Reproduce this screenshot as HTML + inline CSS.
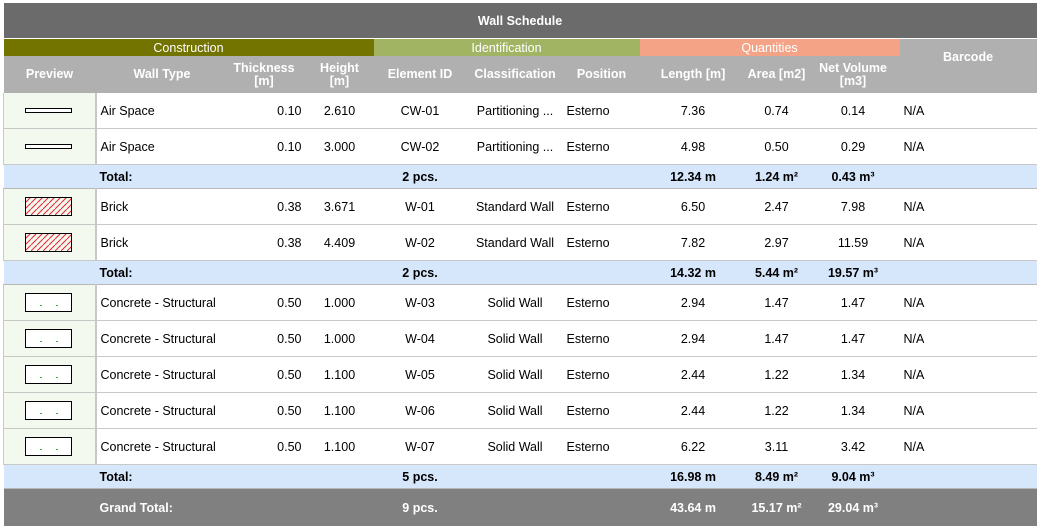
<!DOCTYPE html>
<html><head><meta charset="utf-8"><style>
body{margin:0;background:#fff;font-family:"Liberation Sans",Arial,sans-serif;font-size:12.5px;color:#000}
table{position:absolute;left:3px;top:3px;border-collapse:collapse;table-layout:fixed;width:1033px}
td{padding:0;white-space:nowrap;overflow:hidden}
.title td{background:#6b6b6b;color:#fff;font-weight:bold;text-align:center;height:35px;border-bottom:1px solid #fff}
.grp td{height:17px;color:#fff;text-align:center;font-weight:normal}
.hdr td{background:#b0b0b0;color:#fff;font-weight:bold;text-align:center;height:37px;line-height:13px}
.d td{height:35px;border-bottom:1px solid #c8c8c8}
.d td.pv{background:#f3f9ef;border-right:2px solid #c8c8c8;border-left:1px solid #c8c8c8;text-align:center}
.t td{height:23px;background:#d7e7fb;border-bottom:1px solid #b8b8b8;font-weight:bold}
.g td{height:37px;background:#808080;color:#fff;font-weight:bold}
.r{text-align:right}.c{text-align:center}
.ic{display:inline-block;vertical-align:middle}
</style></head><body>
<table>
<colgroup><col style="width:92px"><col style="width:133px"><col style="width:77px"><col style="width:68px"><col style="width:93px"><col style="width:97px"><col style="width:76px"><col style="width:107px"><col style="width:60px"><col style="width:93px"><col style="width:137px"></colgroup>
<tr class="title"><td colspan="11">Wall Schedule</td></tr>
<tr class="grp"><td colspan="4" style="background:#737300">Construction</td><td colspan="3" style="background:#a1b463">Identification</td><td colspan="3" style="background:#f5a386">Quantities</td><td rowspan="2" style="background:#b0b0b0;font-weight:bold;vertical-align:middle;padding-bottom:18px">Barcode</td></tr>
<tr class="hdr"><td>Preview</td><td>Wall Type</td><td class="r" style="padding-right:6px">Thickness<br>[m]</td><td>Height<br>[m]</td><td>Element ID</td><td>Classification</td><td>Position</td><td>Length [m]</td><td>Area [m2]</td><td>Net Volume<br>[m3]</td></tr>

<tr class="d"><td class="pv"><svg class="ic" width="48" height="6"><rect x="0.5" y="0.5" width="46" height="4" fill="#fff" stroke="#000"/></svg></td><td style="padding-left:4px">Air Space</td><td class="r" style="padding-right:4px">0.10</td><td class="c">2.610</td><td class="c">CW-01</td><td class="c">Partitioning ...</td><td style="padding-left:3px">Esterno</td><td class="c">7.36</td><td class="c">0.74</td><td class="c">0.14</td><td style="padding-left:4px">N/A</td></tr>
<tr class="d"><td class="pv"><svg class="ic" width="48" height="6"><rect x="0.5" y="0.5" width="46" height="4" fill="#fff" stroke="#000"/></svg></td><td style="padding-left:4px">Air Space</td><td class="r" style="padding-right:4px">0.10</td><td class="c">3.000</td><td class="c">CW-02</td><td class="c">Partitioning ...</td><td style="padding-left:3px">Esterno</td><td class="c">4.98</td><td class="c">0.50</td><td class="c">0.29</td><td style="padding-left:4px">N/A</td></tr>
<tr class="t"><td></td><td style="padding-left:4px">Total:</td><td></td><td></td><td class="c">2 pcs.</td><td></td><td></td><td class="c">12.34 m</td><td class="c">1.24 m²</td><td class="c">0.43 m³</td><td></td></tr>

<tr class="d"><td class="pv"><svg class="ic" width="48" height="20"><defs><pattern id="h" width="6" height="6" patternUnits="userSpaceOnUse"><path d="M0,6L6,0" stroke="#e23" stroke-width="1"/></pattern></defs><rect x="0.5" y="0.5" width="46" height="18" fill="url(#h)" stroke="#000"/></svg></td><td style="padding-left:4px">Brick</td><td class="r" style="padding-right:4px">0.38</td><td class="c">3.671</td><td class="c">W-01</td><td class="c">Standard Wall</td><td style="padding-left:3px">Esterno</td><td class="c">6.50</td><td class="c">2.47</td><td class="c">7.98</td><td style="padding-left:4px">N/A</td></tr>
<tr class="d"><td class="pv"><svg class="ic" width="48" height="20"><rect x="0.5" y="0.5" width="46" height="18" fill="url(#h)" stroke="#000"/></svg></td><td style="padding-left:4px">Brick</td><td class="r" style="padding-right:4px">0.38</td><td class="c">4.409</td><td class="c">W-02</td><td class="c">Standard Wall</td><td style="padding-left:3px">Esterno</td><td class="c">7.82</td><td class="c">2.97</td><td class="c">11.59</td><td style="padding-left:4px">N/A</td></tr>
<tr class="t"><td></td><td style="padding-left:4px">Total:</td><td></td><td></td><td class="c">2 pcs.</td><td></td><td></td><td class="c">14.32 m</td><td class="c">5.44 m²</td><td class="c">19.57 m³</td><td></td></tr>

<tr class="d"><td class="pv"><svg class="ic" width="48" height="20"><rect x="0.5" y="0.5" width="46" height="18" fill="#fff" stroke="#000"/><rect x="15" y="12" width="2" height="1" fill="#4a4"/><rect x="31" y="12" width="2" height="1" fill="#4a4"/></svg></td><td style="padding-left:4px">Concrete - Structural</td><td class="r" style="padding-right:4px">0.50</td><td class="c">1.000</td><td class="c">W-03</td><td class="c">Solid Wall</td><td style="padding-left:3px">Esterno</td><td class="c">2.94</td><td class="c">1.47</td><td class="c">1.47</td><td style="padding-left:4px">N/A</td></tr>
<tr class="d"><td class="pv"><svg class="ic" width="48" height="20"><rect x="0.5" y="0.5" width="46" height="18" fill="#fff" stroke="#000"/><rect x="15" y="12" width="2" height="1" fill="#4a4"/><rect x="31" y="12" width="2" height="1" fill="#4a4"/></svg></td><td style="padding-left:4px">Concrete - Structural</td><td class="r" style="padding-right:4px">0.50</td><td class="c">1.000</td><td class="c">W-04</td><td class="c">Solid Wall</td><td style="padding-left:3px">Esterno</td><td class="c">2.94</td><td class="c">1.47</td><td class="c">1.47</td><td style="padding-left:4px">N/A</td></tr>
<tr class="d"><td class="pv"><svg class="ic" width="48" height="20"><rect x="0.5" y="0.5" width="46" height="18" fill="#fff" stroke="#000"/><rect x="15" y="12" width="2" height="1" fill="#4a4"/><rect x="31" y="12" width="2" height="1" fill="#4a4"/></svg></td><td style="padding-left:4px">Concrete - Structural</td><td class="r" style="padding-right:4px">0.50</td><td class="c">1.100</td><td class="c">W-05</td><td class="c">Solid Wall</td><td style="padding-left:3px">Esterno</td><td class="c">2.44</td><td class="c">1.22</td><td class="c">1.34</td><td style="padding-left:4px">N/A</td></tr>
<tr class="d"><td class="pv"><svg class="ic" width="48" height="20"><rect x="0.5" y="0.5" width="46" height="18" fill="#fff" stroke="#000"/><rect x="15" y="12" width="2" height="1" fill="#4a4"/><rect x="31" y="12" width="2" height="1" fill="#4a4"/></svg></td><td style="padding-left:4px">Concrete - Structural</td><td class="r" style="padding-right:4px">0.50</td><td class="c">1.100</td><td class="c">W-06</td><td class="c">Solid Wall</td><td style="padding-left:3px">Esterno</td><td class="c">2.44</td><td class="c">1.22</td><td class="c">1.34</td><td style="padding-left:4px">N/A</td></tr>
<tr class="d"><td class="pv"><svg class="ic" width="48" height="20"><rect x="0.5" y="0.5" width="46" height="18" fill="#fff" stroke="#000"/><rect x="15" y="12" width="2" height="1" fill="#4a4"/><rect x="31" y="12" width="2" height="1" fill="#4a4"/></svg></td><td style="padding-left:4px">Concrete - Structural</td><td class="r" style="padding-right:4px">0.50</td><td class="c">1.100</td><td class="c">W-07</td><td class="c">Solid Wall</td><td style="padding-left:3px">Esterno</td><td class="c">6.22</td><td class="c">3.11</td><td class="c">3.42</td><td style="padding-left:4px">N/A</td></tr>
<tr class="t"><td></td><td style="padding-left:4px">Total:</td><td></td><td></td><td class="c">5 pcs.</td><td></td><td></td><td class="c">16.98 m</td><td class="c">8.49 m²</td><td class="c">9.04 m³</td><td></td></tr>
<tr class="g"><td></td><td style="padding-left:4px">Grand Total:</td><td></td><td></td><td class="c">9 pcs.</td><td></td><td></td><td class="c">43.64 m</td><td class="c">15.17 m²</td><td class="c">29.04 m³</td><td></td></tr>
</table>
</body></html>
